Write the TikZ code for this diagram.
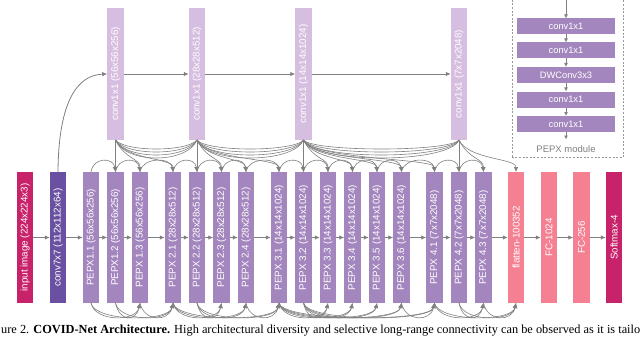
\documentclass[tikz,border=0pt]{standalone}
\usepackage{fontspec}
\usepackage{graphicx}
\setmainfont{Liberation Sans}
\newfontfamily\capfont{Liberation Serif}
\usetikzlibrary{arrows.meta,calc}
\definecolor{cMag}{RGB}{200,34,106}
\definecolor{cDark}{RGB}{106,80,160}
\definecolor{cPep}{RGB}{164,134,190}
\definecolor{cTop}{RGB}{214,190,224}
\definecolor{cPink}{RGB}{244,128,146}
\definecolor{cArr}{RGB}{128,128,128}
\begin{document}
\begin{tikzpicture}[x=1pt,y=-1pt,
  blk/.style={minimum width=16.5pt,minimum height=131pt,inner sep=0pt,outer sep=0pt},
  tblk/.style={minimum width=16.5pt,minimum height=132pt,inner sep=0pt,outer sep=0pt,fill=cTop},
  lbl/.style={rotate=90,text=white,inner sep=0pt,font=\fontsize{9.8}{10}\selectfont},
  mblk/.style={minimum width=98pt,minimum height=16pt,inner sep=0pt,outer sep=0pt,fill=cPep,text=white,font=\fontsize{9.3}{10}\selectfont},
  arr/.style={draw=cArr,line width=0.8pt,-{Latex[length=5pt,width=4.5pt]}},
  sarr/.style={draw=cArr,line width=0.8pt,-{Latex[length=4pt,width=4pt]}},
  ln/.style={draw=cArr,line width=0.6pt},
  barc/.style={draw=cArr,line width=0.6pt,-{Latex[length=5pt,width=4.5pt]}},
]
\useasboundingbox (0,0) rectangle (640,337);

% bottom row
\node[blk,fill=cMag,label={[lbl]center:input image (224x224x3)}] (inp) at (25,237.5) {};
\node[blk,fill=cDark,label={[lbl]center:conv7x7 (112x112x64)}] (c7) at (58,237.5) {};
\node[blk,fill=cPep,label={[lbl]center:PEPX1.1 (56x56x256)}] (p11) at (91,237.5) {};
\node[blk,fill=cPep,label={[lbl]center:PEPX1.2 (56x56x256)}] (p12) at (115.5,237.5) {};
\node[blk,fill=cPep,label={[lbl]center:PEPX 1.3 (56x56x256)}] (p13) at (140,237.5) {};
\node[blk,fill=cPep,label={[lbl]center:PEPX 2.1 (28x28x512)}] (p21) at (173,237.5) {};
\node[blk,fill=cPep,label={[lbl]center:PEPX 2.2 (28x28x512)}] (p22) at (197,237.5) {};
\node[blk,fill=cPep,label={[lbl]center:PEPX 2.3 (28x28x512)}] (p23) at (221.5,237.5) {};
\node[blk,fill=cPep,label={[lbl]center:PEPX 2.4 (28x28x512)}] (p24) at (246,237.5) {};
\node[blk,fill=cPep,label={[lbl]center:PEPX 3.1 (14x14x1024)}] (p31) at (279,237.5) {};
\node[blk,fill=cPep,label={[lbl]center:PEPX 3.2 (14x14x1024)}] (p32) at (303.5,237.5) {};
\node[blk,fill=cPep,label={[lbl]center:PEPX 3.3 (14x14x1024)}] (p33) at (328,237.5) {};
\node[blk,fill=cPep,label={[lbl]center:PEPX 3.4 (14x14x1024)}] (p34) at (352.5,237.5) {};
\node[blk,fill=cPep,label={[lbl]center:PEPX 3.5 (14x14x1024)}] (p35) at (377,237.5) {};
\node[blk,fill=cPep,label={[lbl]center:PEPX 3.6 (14x14x1024)}] (p36) at (401.5,237.5) {};
\node[blk,fill=cPep,label={[lbl]center:PEPX 4.1 (7x7x2048)}] (p41) at (434.5,237.5) {};
\node[blk,fill=cPep,label={[lbl]center:PEPX 4.2 (7x7x2048)}] (p42) at (459,237.5) {};
\node[blk,fill=cPep,label={[lbl]center:PEPX 4.3 (7x7x2048)}] (p43) at (483.5,237.5) {};
\node[blk,fill=cPink,label={[lbl]center:flatten-100352}] (fl) at (516,237.5) {};
\node[blk,fill=cPink,label={[lbl]center:FC-1024}] (fc1) at (549,237.5) {};
\node[blk,fill=cPink,label={[lbl]center:FC-256}] (fc2) at (581.5,237.5) {};
\node[blk,fill=cMag,label={[lbl]center:Softmax-4}] (sm) at (614,237.5) {};

\foreach \a/\b in {inp/c7,c7/p11,p11/p12,p12/p13,p13/p21,p21/p22,p22/p23,p23/p24,p24/p31,p31/p32,p32/p33,p33/p34,p34/p35,p35/p36,p36/p41,p41/p42,p42/p43,p43/fl,fl/fc1,fc1/fc2,fc2/sm}
  \draw[arr] (\a) -- (\b);

% top row
\node[tblk,label={[lbl]center:conv1x1 (56x56x256)}] (t1) at (115.5,74) {};
\node[tblk,label={[lbl]center:conv1x1 (28x28x512)}] (t2) at (197,74) {};
\node[tblk,label={[lbl]center:conv1x1 (14x14x1024)}] (t3) at (303.5,74) {};
\node[tblk,label={[lbl]center:conv1x1 (7x7x2048)}] (t4) at (459,74) {};
\draw[arr] (t1) -- (t2);
\draw[arr] (t2) -- (t3);
\draw[arr] (t3) -- (t4);
\draw[arr] (c7.north) .. controls (58.5,100) and (78,75) .. (t1.west);
\foreach \a/\b in {t1/p12,t2/p22,t3/p32,t4/p42}
  \draw[arr] (\a) -- (\b);

% hammocks between top boxes
\foreach \a/\b in {t1/t2,t2/t3,t3/t4}
  \foreach \d in {12,16,20,24}
    \draw[ln] (\a.south) .. controls ($(\a.south)+(10,\d)$) and ($(\b.south)+(-10,\d)$) .. (\b.south);

% fans from top boxes
\foreach \s/\t in {t1/p13,t1/p21,t2/p23,t2/p24,t2/p31,t3/p33,t3/p34,t3/p35,t3/p36,t3/p41,t4/p43,t4/fl}
  \draw[barc] (\s.south) .. controls ($(\s.south)+(10,20)$) and ($(\t.north)+(0,-14)$) .. (\t.north);

% adjacent arcs on top
\foreach \a/\b in {p11/p12,p12/p13,p13/p21,p21/p22,p22/p23,p23/p24,p24/p31,p31/p32,p32/p33,p33/p34,p34/p35,p35/p36,p36/p41,p41/p42,p42/p43}
  \draw[barc] (\a.north) .. controls +(2,-15) and +(-2,-15) .. (\b.north);

% bottom arcs
\foreach \a/\b in {p11/p13,p12/p13,p11/p21,p12/p21,p13/p21,
  p21/p23,p22/p23,p21/p24,p22/p24,p21/p31,p22/p31,p24/p31,
  p31/p33,p32/p33,p31/p34,p32/p34,p31/p35,p32/p35,p31/p36,p32/p36,p31/p41,p32/p41,p36/p41,
  p41/p43,p42/p43,p41/fl,p42/fl,p43/fl}
  \draw[barc] (\a.south) .. controls ($(\a.south)+(4,19)$) and ($(\b.south)+(-4,19)$) .. (\b.south);

% PEPX module
\node[draw=cArr!80,dash pattern=on 2pt off 1.6pt,line width=0.6pt,minimum width=111.5pt,minimum height=158pt,inner sep=0pt,anchor=north west] (mod) at (511.5,-1) {};
\coordinate (min) at (566,0);
\node[mblk] (m1) at (566,26.5) {conv1x1};
\node[mblk] (m2) at (566,50.5) {conv1x1};
\node[mblk] (m3) at (566,75) {DWConv3x3};
\node[mblk] (m4) at (566,99.5) {conv1x1};
\node[mblk] (m5) at (566,124) {conv1x1};
\coordinate (mout) at (566,139.5);
\draw[sarr] (min) -- (m1);
\draw[sarr] (m1) -- (m2);
\draw[sarr] (m2) -- (m3);
\draw[sarr] (m3) -- (m4);
\draw[sarr] (m4) -- (m5);
\draw[sarr] (m5) -- (mout);
\node[text=cArr,font=\fontsize{9.5}{10}\selectfont,inner sep=0pt] (mlab) at (566,149) {PEPX module};

% caption
\node[anchor=base west,inner sep=0pt] (cap) at (1,333) {\resizebox{639pt}{!}{\capfont\fontsize{11}{12}\selectfont ure 2. \textbf{COVID-Net Architecture.} High architectural diversity and selective long-range connectivity can be observed as it is tailo}};
\end{tikzpicture}
\end{document}
